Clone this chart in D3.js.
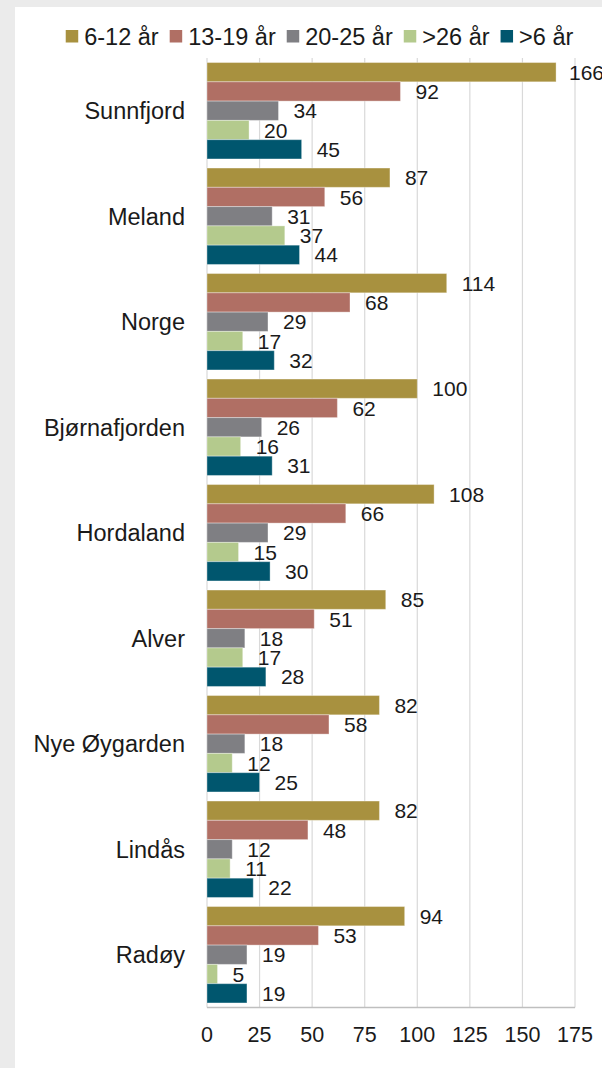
<!DOCTYPE html>
<html>
<head>
<meta charset="utf-8">
<script src="https://cdn.jsdelivr.net/npm/d3@7/dist/d3.min.js"></script>
<style>
  html, body { margin: 0; padding: 0; background: #ebebeb; }
  svg { display: block; }
  text { font-family: "Liberation Sans", Arial, sans-serif; fill: #1a1a1a; }
</style>
</head>
<body>
<svg id="chart" width="602" height="1068"></svg>
<script>
const categories = ["Sunnfjord", "Meland", "Norge", "Bjørnafjorden", "Hordaland", "Alver", "Nye Øygarden", "Lindås", "Radøy"];
const seriesNames = ["6-12 år", "13-19 år", "20-25 år", ">26 år", ">6 år"];
const seriesColors = ["#a8913f", "#b06f64", "#7f7f83", "#b4ca8d", "#00566e"];
const s612 = [166, 87, 114, 100, 108, 85, 82, 82, 94];
const s1319 = [92, 56, 68, 62, 66, 51, 58, 48, 53];
const s2025 = [34, 31, 29, 26, 29, 18, 18, 12, 19];
const s26 = [20, 37, 17, 16, 15, 17, 12, 11, 5];
const s6 = [45, 44, 32, 31, 30, 28, 25, 22, 19];
const tickValues = [0, 25, 50, 75, 100, 125, 150, 175];

const seriesValues = [s612, s1319, s2025, s26, s6];
const W = 602, H = 1068;
const svg = d3.select("#chart");

// white panel
svg.append("rect").attr("x", 15).attr("y", 7).attr("width", W - 15).attr("height", H - 7).attr("fill", "#ffffff");

const x = d3.scaleLinear().domain([0, 175]).range([207, 575]);
const y = d3.scaleBand().domain(categories).range([58, 1007.5]).paddingInner(0.086).paddingOuter(0.043);
const ys = d3.scaleBand().domain(seriesNames).range([0, y.bandwidth()]);

// gridlines
svg.append("g").selectAll("line").data(tickValues).join("line")
  .attr("x1", d => x(d)).attr("x2", d => x(d))
  .attr("y1", 58).attr("y2", 1007.5)
  .attr("stroke", "#d9d9d9").attr("stroke-width", 1.2);

// bottom axis line
svg.append("line").attr("x1", x(0)).attr("x2", x(175)).attr("y1", 1007.5).attr("y2", 1007.5)
  .attr("stroke", "#bfbfbf").attr("stroke-width", 1.5);

// bars
const rows = [];
categories.forEach((c, i) => {
  seriesNames.forEach((s, j) => rows.push({ cat: c, series: s, j: j, value: seriesValues[j][i] }));
});

const g = svg.append("g");
g.selectAll("rect").data(rows).join("rect")
  .attr("x", x(0))
  .attr("y", d => y(d.cat) + ys(d.series))
  .attr("width", d => x(d.value) - x(0))
  .attr("height", ys.bandwidth())
  .attr("fill", d => seriesColors[d.j])
  .attr("stroke", "#ffffff").attr("stroke-opacity", 0.35).attr("stroke-width", 1);

// value labels
g.selectAll("text.val").data(rows).join("text").attr("class", "val")
  .attr("y", d => y(d.cat) + ys(d.series) + ys.bandwidth() / 2)
  .attr("dy", "0.36em")
  .attr("font-size", 21)
  .text(d => d.value)
  .each(function(d) {
    const w = this.getComputedTextLength();
    let px = x(d.value) + 15;
    if (px + w > W + 2) px = W + 2 - w;
    d3.select(this).attr("x", px);
  });

// category labels
svg.append("g").selectAll("text").data(categories).join("text")
  .attr("x", 185)
  .attr("y", d => y(d) + y.bandwidth() / 2)
  .attr("dy", "0.36em")
  .attr("text-anchor", "end")
  .attr("font-size", 23.5)
  .text(d => d);

// x tick labels
svg.append("g").selectAll("text").data(tickValues).join("text")
  .attr("x", d => x(d))
  .attr("y", 1042)
  .attr("text-anchor", "middle")
  .attr("font-size", 21.5)
  .text(d => d);

// legend
const lg = svg.append("g");
const items = lg.selectAll("g").data(seriesNames).join("g");
items.append("rect").attr("width", 12.5).attr("height", 12.5).attr("y", 30)
  .attr("fill", (d, i) => seriesColors[i]);
items.append("text").attr("x", 18.5).attr("y", 36.3).attr("dy", "0.36em")
  .attr("font-size", 23.5).text(d => d);
let cx = 0;
const offs = [];
items.each(function() {
  offs.push(cx);
  const tw = d3.select(this).select("text").node().getComputedTextLength();
  cx += 18.5 + tw + 11;
});
const total = cx - 11;
const start = 319.5 - total / 2;
items.attr("transform", (d, i) => `translate(${start + offs[i]},0)`);
</script>
</body>
</html>
